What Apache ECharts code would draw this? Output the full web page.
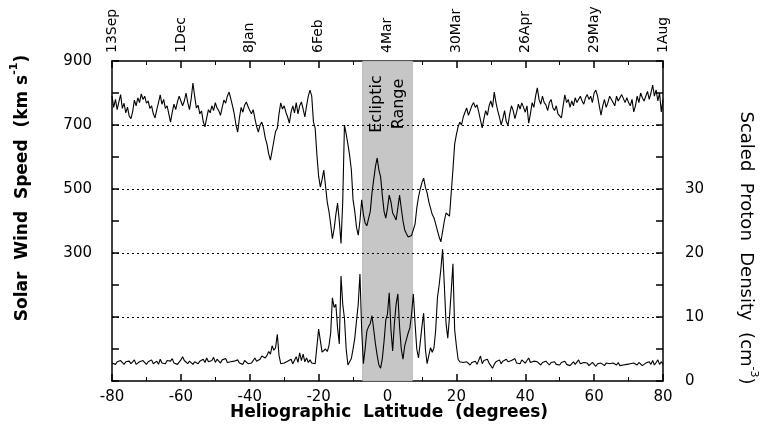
<!DOCTYPE html>
<html>
<head>
<meta charset="utf-8">
<script src="https://cdn.jsdelivr.net/npm/echarts@6/dist/echarts.min.js"></script>
<style>html,body{margin:0;padding:0;background:#fff;}#c{width:761px;height:441px;}</style>
</head>
<body>
<div id="c"></div>
<script>
// Latitude sampling of the record (degrees), half-degree steps from -80 to 80
const latStart = -80;
const latStep = 0.5;

// Solar wind speed (km/s), one value per half degree, -80 .. 80
const speed = [
  790, 755, 780, 748, 772, 795, 752, 768, 738, 756,
  728, 720, 742, 778, 760, 785, 770, 797, 780, 790,
  768, 775, 752, 760, 735, 722, 748, 770, 794, 765,
  780, 752, 760, 735, 709, 740, 765, 748, 772, 790,
  794, 760, 775, 800, 770, 748, 782, 831, 790, 753,
  762, 735, 744, 710, 694, 722, 748, 738, 760, 745,
  770, 753, 745, 730, 755, 778, 768, 790, 803, 782,
  760, 735, 700, 678, 722, 755, 740, 762, 772, 758,
  745, 735, 748, 720, 695, 678, 700, 709, 690, 660,
  640, 610, 590, 620, 650, 680, 690, 735, 769, 750,
  760, 740, 725, 706, 740, 760, 738, 770, 735, 760,
  772, 750, 725, 760, 790, 809, 790, 709, 690, 606,
  540, 506, 530, 559, 510, 459, 430, 390, 345, 375,
  420, 456, 400, 330, 460, 700, 672, 640, 605, 560,
  466, 430, 380, 356, 400, 466, 420, 394, 385, 381,
  430, 488, 530, 570, 597, 560, 538, 480, 430, 409,
  440, 481, 460, 425, 415, 403, 440, 481, 440, 400,
  372, 360, 350, 345, 355, 350, 390, 440, 475, 500,
  520, 534, 505, 488, 460, 440, 420, 410, 390, 370,
  350, 335, 331, 400, 425, 420, 415, 409, 560, 640,
  670, 694, 709, 700, 725, 740, 753, 730, 745, 760,
  770, 755, 763, 740, 715, 691, 720, 745, 730, 760,
  775, 755, 803, 770, 745, 725, 700, 720, 745, 710,
  700, 735, 760, 745, 720, 740, 765, 750, 769, 755,
  740, 760, 706, 735, 770, 755, 790, 816, 780, 765,
  790, 770, 763, 745, 770, 780, 755, 745, 760, 735,
  740, 722, 760, 794, 770, 780, 755, 775, 760, 785,
  770, 772, 790, 775, 765, 785, 795, 780, 790, 770,
  800, 809, 790, 760, 731, 760, 780, 755, 770, 790,
  784, 770, 760, 790, 775, 780, 795, 790, 770, 785,
  770, 760, 780, 741, 760, 790, 770, 800, 785, 775,
  790, 805, 780, 800, 825, 790, 810, 775, 800, 741,
  780
];

// Scaled proton density (cm^-3), one value per half degree, -80 .. 80
const density = [
  2.8, 3.1, 2.6, 3.0, 2.7, 3.2, 2.9, 2.6, 3.0, 2.8,
  3.1, 2.7, 2.9, 3.3, 2.6, 2.8, 3.0, 2.7, 3.2, 2.9,
  2.6, 3.0, 2.8, 3.3, 2.7, 2.9, 3.1, 2.6, 3.4, 2.8,
  3.0, 2.7, 3.2, 2.9, 3.1, 3.5, 2.8, 3.0, 2.6, 2.9,
  3.3, 3.8, 3.2, 3.0, 2.7, 3.1, 2.9, 2.6, 3.0, 3.3,
  2.7, 3.1, 2.8, 3.4, 2.9, 3.6, 3.0, 2.8, 3.2, 3.7,
  2.9, 3.4, 3.1, 2.8, 3.3, 3.0, 3.5, 2.9, 3.2, 3.0,
  2.7, 3.1, 2.9, 3.3, 2.8, 3.0, 2.6, 3.2, 2.9, 2.7,
  3.0, 2.8, 3.2, 3.6, 3.1, 2.9, 3.4, 3.9, 4.2, 3.6,
  4.0, 4.6, 4.2, 5.5, 4.8, 5.2, 7.3, 4.0, 2.7, 3.0,
  2.8, 2.6, 3.1, 2.9, 3.4, 2.7, 3.0, 3.8, 2.9, 4.4,
  3.2, 4.2, 3.0, 3.6, 2.9, 3.3, 2.8, 3.1, 2.7, 3.0,
  8.1, 7.8, 4.5, 4.8, 5.0, 4.6, 5.5, 7.5, 13.0, 11.5,
  12.0, 8.3, 5.8, 16.4, 12.0, 9.8, 5.0, 2.5, 2.3, 3.5,
  5.0, 6.7, 9.4, 12.0, 16.7, 8.0, 2.7, 5.0, 7.8, 8.5,
  9.0, 10.2, 8.0, 5.8, 4.0, 2.5, 2.0, 3.5, 6.2, 9.5,
  10.5, 13.8, 8.0, 4.7, 9.0, 12.0, 13.6, 8.5, 5.0, 3.4,
  5.5, 6.5, 7.5, 8.3, 10.5, 13.6, 9.0, 5.0, 3.6, 6.0,
  8.5, 10.6, 5.0, 2.7, 4.0, 5.2, 4.5, 5.2, 8.0, 13.0,
  15.0, 17.5, 20.6, 15.0, 9.0, 6.7, 10.0, 14.0, 18.3, 8.0,
  5.5, 3.4, 3.0, 2.7, 2.9, 2.6, 3.0, 2.7, 2.5, 2.9,
  2.7, 3.1, 2.6, 2.8, 3.9, 2.7, 3.2, 2.9, 3.4, 2.8,
  2.5, 2.0, 2.6, 3.0, 2.8, 3.3, 2.7, 3.1, 2.9, 3.4,
  3.0, 2.7, 3.2, 2.9, 3.5, 2.8, 3.1, 2.7, 3.3, 3.0,
  2.8, 3.2, 3.6, 2.9, 2.6, 3.1, 2.8, 3.0, 2.7, 2.5,
  2.9, 2.6, 3.1, 2.8, 2.5, 2.9, 2.7, 3.0, 2.6, 2.8,
  2.5, 2.9, 2.7, 3.1, 2.6, 2.8, 2.4, 2.7, 3.0, 2.6,
  2.8, 3.3, 2.7, 2.5, 2.9, 2.6, 2.8, 2.4, 2.7, 2.9,
  2.6, 2.3, 2.7, 2.5, 2.8, 2.6, 2.4, 2.8, 2.5, 2.7,
  2.4, 2.8, 2.6, 2.5, 2.9, 2.4, 2.7, 2.5, 2.8, 2.6,
  2.5, 2.7, 2.4, 2.8, 2.6, 2.5, 2.9, 2.6, 2.4, 2.7,
  2.8, 2.5, 3.0, 2.6, 3.2, 2.5, 2.9, 3.3, 2.6, 3.0,
  2.6
];

// Top axis: dates at the latitude ticks
const topTickLats  = [-80, -60, -40, -20, 0, 20, 40, 60, 80];
const topTickDates = ['13Sep', '1Dec', '8Jan', '6Feb', '4Mar', '30Mar', '26Apr', '29May', '1Aug'];

// Labelled ticks
const speedLabels = [300, 500, 700, 900];
const densityLabels = [0, 10, 20, 30];
const dottedSpeedLevels = [100, 300, 500, 700];

// Ecliptic range (degrees)
const eclipticRange = [-7.25, 7.25];

const FONT = '"DejaVu Sans", Verdana, sans-serif';

const speedData = speed.map((v, i) => [latStart + i * latStep, v]);
const densityData = density.map((v, i) => [latStart + i * latStep, v]);

const chart = echarts.init(document.getElementById('c'), null, {renderer: 'canvas'});

const option = {
  animation: false,
  backgroundColor: '#fff',
  grid: {left: 112, right: 98, top: 61, bottom: 60, containLabel: false},
  xAxis: [
    {
      type: 'value', position: 'bottom', min: -80, max: 80, interval: 20,
      axisLine: {show: true, onZero: false, lineStyle: {color: '#000', width: 1.5}},
      axisTick: {show: true, inside: true, length: 7, lineStyle: {color: '#000', width: 1.5}},
      minorTick: {show: true, splitNumber: 2, length: 4, lineStyle: {color: '#000', width: 1}},
      splitLine: {show: false},
      axisLabel: {color: '#000', fontFamily: FONT, fontSize: 15, margin: 9}
    },
    {
      type: 'value', position: 'top', min: -80, max: 80, interval: 20,
      axisLine: {show: true, onZero: false, lineStyle: {color: '#000', width: 1.5}},
      axisTick: {show: true, inside: true, length: 7, lineStyle: {color: '#000', width: 1.5}},
      minorTick: {show: true, splitNumber: 2, length: 4, lineStyle: {color: '#000', width: 1}},
      splitLine: {show: false},
      axisLabel: {
        color: '#000', fontFamily: FONT, fontSize: 14, rotate: -90, margin: 8,
        formatter: v => { const k = topTickLats.indexOf(v); return k >= 0 ? topTickDates[k] : ''; }
      }
    }
  ],
  yAxis: [
    {
      type: 'value', position: 'left', min: -100, max: 900, interval: 100,
      axisLine: {show: true, onZero: false, lineStyle: {color: '#000', width: 1.5}},
      axisTick: {show: true, inside: true, length: 7, lineStyle: {color: '#000', width: 1.5}},
      splitLine: {show: false},
      axisLabel: {
        color: '#000', fontFamily: FONT, fontSize: 15, margin: 20,
        formatter: v => speedLabels.includes(v) ? String(v) : ''
      }
    },
    {
      type: 'value', position: 'right', min: 0, max: 50, interval: 5,
      axisLine: {show: true, onZero: false, lineStyle: {color: '#000', width: 1.5}},
      axisTick: {show: true, inside: true, length: 7, lineStyle: {color: '#000', width: 1.5}},
      splitLine: {show: false},
      axisLabel: {
        color: '#000', fontFamily: FONT, fontSize: 15, margin: 22,
        formatter: v => densityLabels.includes(v) ? String(v) : ''
      }
    }
  ],
  series: [
    {
      name: 'ecliptic', type: 'line', data: [], xAxisIndex: 0, yAxisIndex: 0, z: 1,
      silent: true,
      markArea: {
        silent: true,
        itemStyle: {color: '#c6c6c6', borderColor: '#9a9a9a', borderWidth: 0.5},
        data: [[{xAxis: eclipticRange[0]}, {xAxis: eclipticRange[1]}]]
      },
      markLine: {
        silent: true, symbol: 'none', label: {show: false},
        lineStyle: {type: [2, 3], color: '#000', width: 1},
        data: dottedSpeedLevels.map(v => ({yAxis: v}))
      }
    },
    {
      name: 'Solar Wind Speed', type: 'line', data: speedData, xAxisIndex: 0, yAxisIndex: 0,
      showSymbol: false, z: 3, lineStyle: {color: '#000', width: 1.1}
    },
    {
      name: 'Scaled Proton Density', type: 'line', data: densityData, xAxisIndex: 0, yAxisIndex: 1,
      showSymbol: false, z: 3, lineStyle: {color: '#000', width: 1.1}
    }
  ]
};
chart.setOption(option);

const cx = chart.convertToPixel({xAxisIndex: 0}, 0);
chart.setOption({
  graphic: [
    {
      type: 'text', x: cx, y: 104, rotation: Math.PI / 2, z: 10,
      style: {
        text: 'Ecliptic\nRange', align: 'center', verticalAlign: 'middle',
        font: '16px ' + FONT, fill: '#000', lineHeight: 22
      }
    },
    {
      type: 'text', x: 20, y: 188, rotation: Math.PI / 2, z: 10,
      style: {
        text: '{a|Solar  Wind  Speed  (km s}{s|-1}{a|)}',
        align: 'center', verticalAlign: 'middle',
        rich: {
          a: {font: 'bold 17px ' + FONT, fill: '#000', lineHeight: 22, verticalAlign: 'bottom'},
          s: {font: 'bold 11px ' + FONT, fill: '#000', lineHeight: 12, verticalAlign: 'top'}
        }
      }
    },
    {
      type: 'text', x: 748, y: 248, rotation: -Math.PI / 2, z: 10,
      style: {
        text: '{a|Scaled  Proton  Density  (cm}{s|-3}{a|)}',
        align: 'center', verticalAlign: 'middle',
        rich: {
          a: {font: '18px ' + FONT, fill: '#000', lineHeight: 22, verticalAlign: 'bottom'},
          s: {font: '11px ' + FONT, fill: '#000', lineHeight: 12, verticalAlign: 'top'}
        }
      }
    },
    {
      type: 'text', x: 389, y: 413, z: 10,
      style: {
        text: 'Heliographic  Latitude  (degrees)', align: 'center', verticalAlign: 'middle',
        font: 'bold 17px ' + FONT, fill: '#000'
      }
    }
  ]
});
</script>
</body>
</html>
